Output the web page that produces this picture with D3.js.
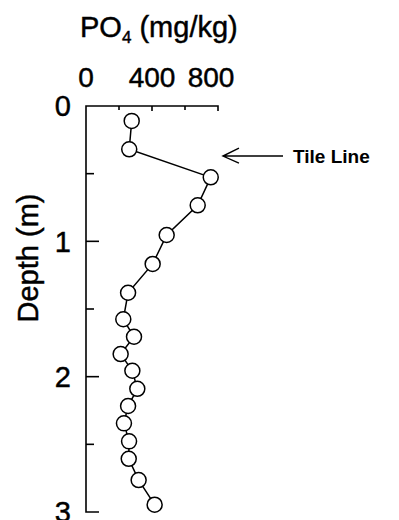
<!DOCTYPE html>
<html>
<head>
<meta charset="utf-8">
<script src="https://cdn.jsdelivr.net/npm/d3@7"></script>
<style>
  body { margin: 0; background: #fff; }
  svg { display: block; font-family: "Liberation Sans", Arial, sans-serif; }
  .txt { stroke: #000; stroke-width: 0.45; }
</style>
</head>
<body>
<svg id="chart" width="399" height="520"></svg>
<script>
// values, top to bottom
const depth = [0.11, 0.32, 0.527, 0.734, 0.953, 1.167, 1.38, 1.576, 1.705, 1.833,
               1.956, 2.09, 2.217, 2.345, 2.478, 2.607, 2.764, 2.946];
const po4 = [277, 262, 756, 677, 489, 404, 255, 226, 291, 210,
             281, 311, 255, 230, 261, 259, 319, 416];
const xTicks = [0, 400, 800];
const yTicks = [0, 1, 2, 3];
const tileLine = { depth: 0.37, label: "Tile Line" };

const svg = d3.select("#chart");

// axis box: 0..800 across the top, 0..3 m going down
const x = d3.scaleLinear().domain([0, 800]).range([86, 218]);
const y = d3.scaleLinear().domain([0, 3]).range([106, 512]);

const axes = svg.append("g")
    .attr("stroke", "#000")
    .attr("stroke-width", 1.6)
    .attr("fill", "none");

// top axis line + left axis line
axes.append("path")
    .attr("d", `M${x(800)},${y(0) + 5}V${y(0)}H${x(0)}V${y(3)}H${x(0) + 13}`);

// top ticks pointing down (minor at 200, 600)
axes.selectAll(".xt")
    .data([200, 400, 600])
    .join("line")
    .attr("x1", d => x(d)).attr("x2", d => x(d))
    .attr("y1", y(0)).attr("y2", d => y(0) + (d === 400 ? 5 : 4));

// left ticks pointing right
axes.selectAll(".yt")
    .data([0.5, 1, 1.5, 2, 2.5])
    .join("line")
    .attr("x1", x(0))
    .attr("x2", d => x(0) + (Number.isInteger(d) ? 13 : 8))
    .attr("y1", d => y(d)).attr("y2", d => y(d));

// x tick labels
svg.append("g")
    .selectAll("text")
    .data(xTicks)
    .join("text")
    .attr("class", "txt")
    .attr("x", d => x(d) - (d === 800 ? 7 : 0))
    .attr("y", 87)
    .attr("text-anchor", "middle")
    .attr("font-size", 28)
    .text(d => d);

// y tick labels
svg.append("g")
    .selectAll("text")
    .data(yTicks)
    .join("text")
    .attr("class", "txt")
    .attr("x", 71)
    .attr("y", d => y(d))
    .attr("dy", "0.36em")
    .attr("text-anchor", "end")
    .attr("font-size", 29)
    .text(d => d);

// title
const title = svg.append("text")
    .attr("class", "txt")
    .attr("x", 80)
    .attr("y", 37)
    .attr("font-size", 29);
title.append("tspan").text("PO");
title.append("tspan").attr("font-size", 17).attr("dy", 6).text("4");
title.append("tspan").attr("dy", -6).text(" (mg/kg)");

// y axis title
svg.append("text")
    .attr("class", "txt")
    .attr("transform", "translate(38, 258) rotate(-90)")
    .attr("text-anchor", "middle")
    .attr("font-size", 29)
    .text("Depth (m)");

// profile line + markers
const pts = depth.map((d, i) => [x(po4[i]), y(d)]);

svg.append("path")
    .attr("d", d3.line()(pts))
    .attr("fill", "none")
    .attr("stroke", "#000")
    .attr("stroke-width", 1.5);

svg.append("g")
    .selectAll("circle")
    .data(pts)
    .join("circle")
    .attr("cx", d => d[0])
    .attr("cy", d => d[1])
    .attr("r", 7.5)
    .attr("fill", "#fff")
    .attr("stroke", "#000")
    .attr("stroke-width", 1.5);

// tile line annotation
const ay = y(tileLine.depth);
const ax0 = x(830), ax1 = x(1194);
svg.append("path")
    .attr("d", `M${ax1},${ay}H${ax0}M${ax0 + 16},${ay - 8}L${ax0},${ay}L${ax0 + 16},${ay + 7}`)
    .attr("fill", "none")
    .attr("stroke", "#000")
    .attr("stroke-width", 1.4);

svg.append("text")
    .attr("x", 293)
    .attr("y", ay + 7)
    .attr("font-size", 19)
    .attr("font-weight", "bold")
    .text(tileLine.label);
</script>
</body>
</html>
